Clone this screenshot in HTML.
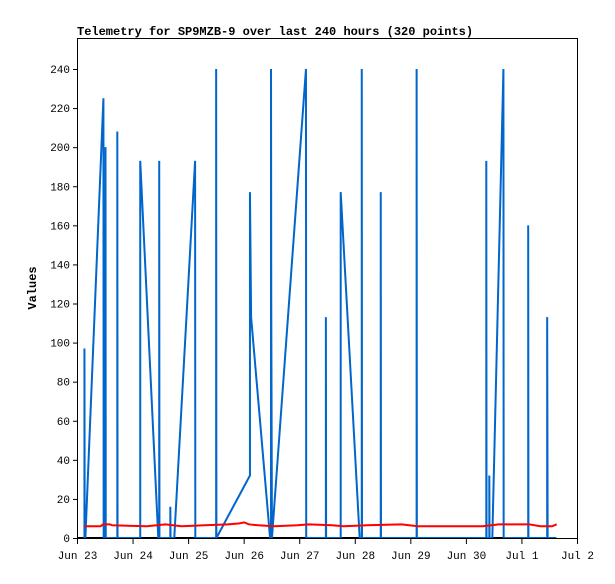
<!DOCTYPE html>
<html><head><meta charset="utf-8"><style>
body{margin:0;background:#fff}
svg text{font-family:"Liberation Mono","DejaVu Sans Mono",monospace}
</style></head><body>
<svg id="c" width="615" height="579" xmlns="http://www.w3.org/2000/svg">
<rect x="0" y="0" width="615" height="579" fill="#fff"/>
<text x="77" y="35" font-size="12" font-weight="bold">Telemetry for SP9MZB-9 over last 240 hours (320 points)</text>
<text transform="translate(36,288) rotate(-90)" text-anchor="middle" font-size="12" font-weight="bold">Values</text>
<g id="ax"></g>
<g id="series"></g>
<rect x="77.5" y="38.5" width="500" height="500" fill="none" stroke="#000"/>
</svg>
<script>
const yTicks=[0,20,40,60,80,100,120,140,160,180,200,220,240];
const xLabels=["Jun 23","Jun 24","Jun 25","Jun 26","Jun 27","Jun 28","Jun 29","Jun 30","Jul 1","Jul 2"];
const blueHours=[3.0,3.0,3.1,3.4,11.2,11.3,12.1,12.1,12.2,17.2,17.2,17.3,27.1,27.1,34.9,35.3,35.3,35.4,40.1,40.1,40.2,41.8,50.8,50.9,59.9,59.9,60.0,74.5,74.5,75.0,83.2,83.6,83.6,83.7,84.0,98.7,98.8,107.3,107.3,107.4,113.7,113.7,121.9,122.8,122.8,122.9,131.0,131.0,131.1,146.5,146.5,146.6,176.6,176.6,176.7,177.9,177.9,178.0,179.2,184.0,184.1,194.7,194.7,194.8,202.9,202.9,203.0,203.1,206.8];
const blueValues=[0,97,0,0,225,0,0,200,0,0,208,0,0,193,0,0,193,0,0,16,0,0,193,0,0,240,0,32,177,113,0,0,240,121,0,240,0,0,113,0,0,177,0,0,240,0,0,177,0,0,240,0,0,193,0,0,32,0,0,240,0,0,160,0,0,113,57,0,0];
const redHours=[3,10,11,14,15,30,38,45,55,65,70,72,74,78,85,95,100,110,115,125,140,147,175,182,195,200,205,207];
const redValues=[6,6,7,7,6.5,6,7,6,6.5,7,7.5,8,7,6.5,6,6.5,7,6.5,6,6.5,7,6,6,7,7,6,6,7];
const X0=77.5,PXH=500/216;
const xs=h=>X0+h*PXH;
const ys=v=>538-v*(469/240);
const NS="http://www.w3.org/2000/svg";
const ax=document.getElementById('ax'),sg=document.getElementById('series');
function mk(t,a,p){const e=document.createElementNS(NS,t);for(const k in a)e.setAttribute(k,a[k]);p.appendChild(e);return e;}
yTicks.forEach(v=>{
 const l=mk('line',{x1:73,x2:77.5,y1:ys(v)+0.5,y2:ys(v)+0.5,stroke:'#000'},ax);
 
 
 const t=mk('text',{x:70,y:ys(v)+4,'text-anchor':'end','font-size':'11'},ax);t.textContent=v;
 
 
});
xLabels.forEach((s,i)=>{
 const x=xs(i*24);
 const l=mk('line',{x1:x,x2:x,y1:538,y2:544,stroke:'#000'},ax);
 
 
 const t=mk('text',{x:x,y:559,'text-anchor':'middle','font-size':'11'},ax);t.textContent=s;
 
 
});
const base=mk('line',{x1:X0,x2:xs(206.8),y1:538,y2:538,stroke:'#000','stroke-width':2},sg);


const bp=mk('polyline',{points:blueHours.map((h,i)=>xs(h)+','+ys(blueValues[i])).join(' '),fill:'none',stroke:'#0066cc','stroke-width':2},sg);


const rp=mk('polyline',{points:redHours.map((h,i)=>xs(h)+','+ys(redValues[i])).join(' '),fill:'none',stroke:'#ff0000','stroke-width':2},sg);


</script>
</body></html>
